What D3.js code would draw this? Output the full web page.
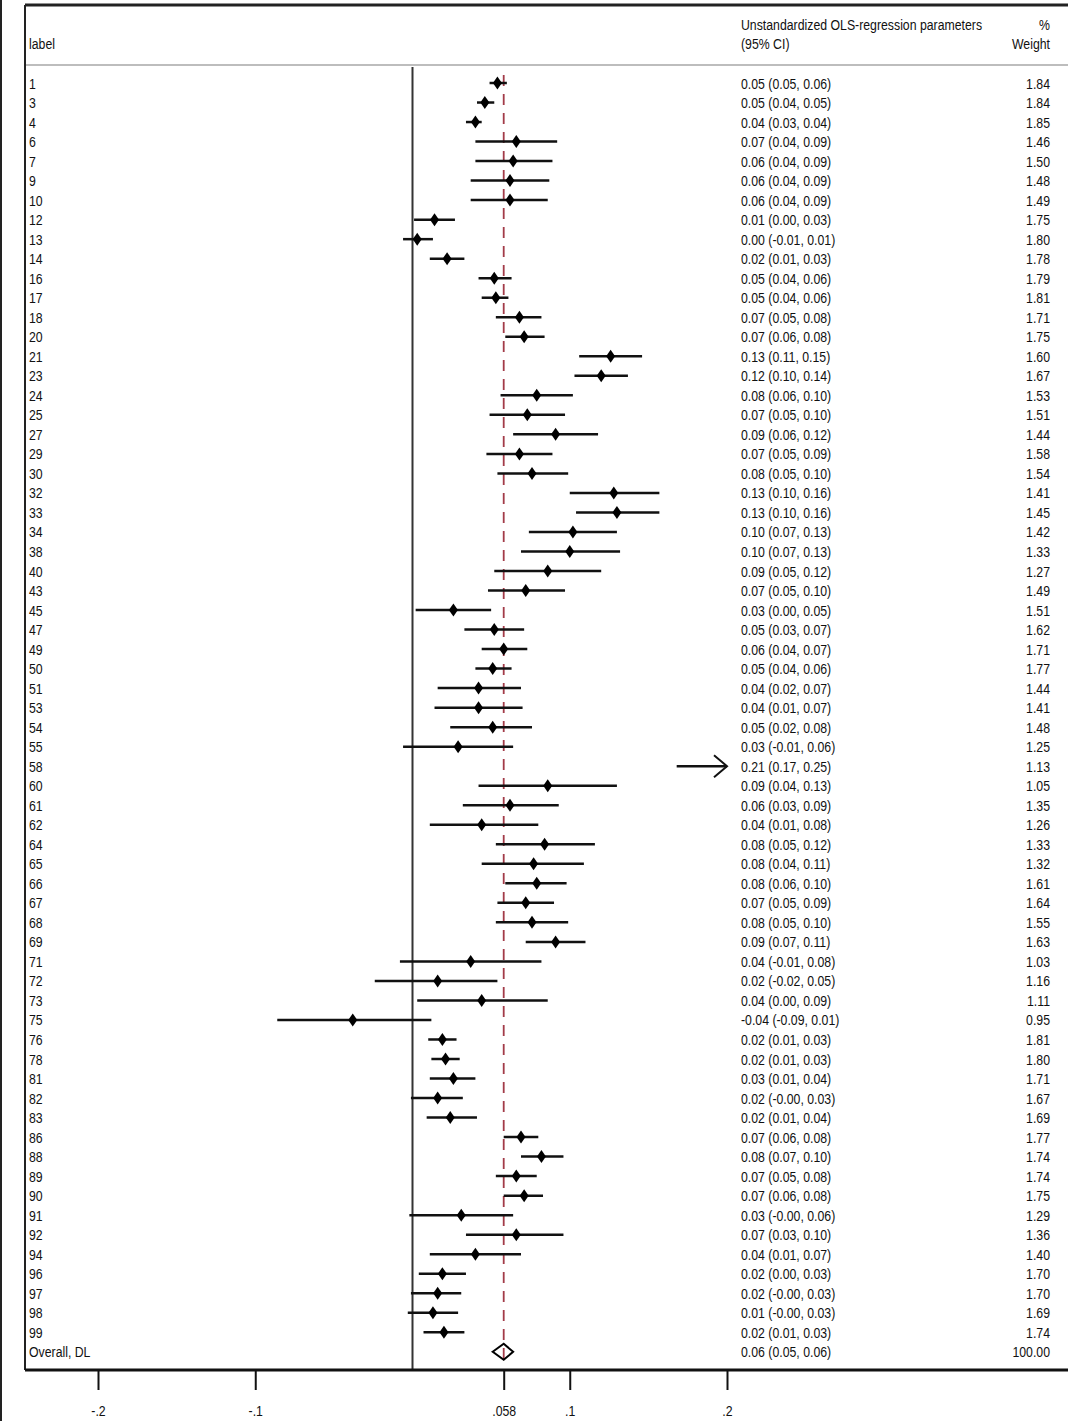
<!DOCTYPE html>
<html>
<head>
<meta charset="utf-8">
<script src="https://cdn.jsdelivr.net/npm/d3@7"></script>
<style>
  body { margin: 0; background: #fff; }
  svg text { font-family: "Liberation Sans Narrow", "Arial Narrow", "Liberation Sans", Arial, sans-serif; font-size: 15px; fill: #111; }
</style>
</head>
<body>
<svg id="chart" width="1068" height="1421"></svg>
<script>
// study labels, point estimates, CI bounds and % weights
var labels = ["1","3","4","6","7","9","10","12","13","14","16","17","18","20","21","23","24","25","27","29",
  "30","32","33","34","38","40","43","45","47","49","50","51","53","54","55","58","60","61","62","64",
  "65","66","67","68","69","71","72","73","75","76","78","81","82","83","86","88","89","90","91","92",
  "94","96","97","98","99"];
var est = [0.054,0.046,0.040,0.066,0.064,0.062,0.062,0.014,0.003,0.022,0.052,0.053,0.068,0.071,0.126,0.120,0.079,0.073,0.091,0.068,
  0.076,0.128,0.130,0.102,0.100,0.086,0.072,0.026,0.052,0.058,0.051,0.042,0.042,0.051,0.029,0.210,0.086,0.062,0.044,0.084,
  0.077,0.079,0.072,0.076,0.091,0.037,0.016,0.044,-0.038,0.019,0.021,0.026,0.016,0.024,0.069,0.082,0.066,0.071,0.031,0.066,
  0.040,0.019,0.016,0.013,0.020];
var lower = [0.049,0.041,0.034,0.040,0.040,0.037,0.037,0.001,-0.006,0.011,0.042,0.044,0.053,0.059,0.106,0.103,0.056,0.049,0.064,0.047,
  0.054,0.100,0.104,0.074,0.069,0.052,0.048,0.002,0.033,0.044,0.040,0.016,0.014,0.024,-0.006,0.168,0.042,0.032,0.011,0.053,
  0.044,0.059,0.054,0.053,0.072,-0.008,-0.024,0.003,-0.086,0.010,0.012,0.011,-0.001,0.009,0.058,0.069,0.053,0.058,-0.002,0.034,
  0.011,0.004,-0.001,-0.003,0.007];
var upper = [0.060,0.052,0.044,0.092,0.089,0.087,0.086,0.027,0.013,0.033,0.063,0.061,0.082,0.084,0.146,0.137,0.102,0.097,0.118,0.089,
  0.099,0.157,0.157,0.130,0.132,0.120,0.097,0.050,0.071,0.073,0.063,0.069,0.070,0.076,0.064,0.252,0.130,0.093,0.080,0.116,
  0.109,0.098,0.090,0.099,0.110,0.082,0.054,0.086,0.012,0.028,0.030,0.040,0.032,0.041,0.080,0.096,0.079,0.083,0.064,0.096,
  0.069,0.034,0.031,0.029,0.033];
var weight = [1.84,1.84,1.85,1.46,1.50,1.48,1.49,1.75,1.80,1.78,1.79,1.81,1.71,1.75,1.60,1.67,1.53,1.51,1.44,1.58,
  1.54,1.41,1.45,1.42,1.33,1.27,1.49,1.51,1.62,1.71,1.77,1.44,1.41,1.48,1.25,1.13,1.05,1.35,1.26,1.33,
  1.32,1.61,1.64,1.55,1.63,1.03,1.16,1.11,0.95,1.81,1.80,1.71,1.67,1.69,1.77,1.74,1.74,1.75,1.29,1.36,
  1.40,1.70,1.70,1.69,1.74];
// overall (DerSimonian-Laird) estimate
var overall = { label: "Overall, DL", est: 0.058, lower: 0.051, upper: 0.064, weight: 100 };
var tickValues = [-0.2, -0.1, 0.058, 0.1, 0.2];
var tickLabels = ["-.2", "-.1", ".058", ".1", ".2"];

var svg = d3.select("#chart"),
    width = +svg.attr("width"),
    height = +svg.attr("height");

var left = 25, headTop = 5, headLine = 65, axisY = 1370;
var rowTop = 83, rowStep = 19.52;
var xmin = -0.2, xmax = 0.2;

var x = d3.scaleLinear().domain([xmin, xmax]).range([98, 727]);
var y = d3.scaleLinear().domain([0, 1]).range([rowTop, rowTop + rowStep]);

var fmt = function(v) { return v.toFixed(2); };

// narrow text: squeeze regular sans horizontally
var squeeze = 0.82;
function place(px, py) { return "translate(" + px + "," + py + ") scale(" + squeeze + ",1)"; }
function label(sel, px, py, str, anchor) {
  return sel.append("text").attr("transform", place(px, py)).attr("text-anchor", anchor || "start").text(str);
}

var rows = labels.map(function(l, i) {
  return { label: l, est: est[i], lower: lower[i], upper: upper[i], weight: weight[i], i: i };
});

// frame
svg.append("line").attr("x1", 1).attr("x2", 1).attr("y1", 0).attr("y2", height)
  .attr("stroke", "#222").attr("stroke-width", 2);
svg.append("line").attr("x1", left).attr("x2", width).attr("y1", headTop).attr("y2", headTop)
  .attr("stroke", "#222").attr("stroke-width", 3);
svg.append("line").attr("x1", left).attr("x2", width).attr("y1", headLine).attr("y2", headLine)
  .attr("stroke", "#bdbdbd").attr("stroke-width", 2);
svg.append("line").attr("x1", left).attr("x2", left).attr("y1", headTop).attr("y2", axisY)
  .attr("stroke", "#222").attr("stroke-width", 2);

// headers
var colCI = 741, colW = 1050;
label(svg, 29, 49, "label");
label(svg, colCI, 30, "Unstandardized OLS-regression parameters");
label(svg, colCI, 49, "(95% CI)");
label(svg, colW, 30, "%", "end");
label(svg, colW, 49, "Weight", "end");

// null line
svg.append("line").attr("x1", x(0)).attr("x2", x(0)).attr("y1", 67).attr("y2", axisY)
  .attr("stroke", "#333").attr("stroke-width", 2);

// overall line
svg.append("line").attr("x1", x(overall.est)).attr("x2", x(overall.est))
  .attr("y1", 75).attr("y2", y(rows.length) + 9)
  .attr("stroke", "#a23b48").attr("stroke-width", 1.8).attr("stroke-dasharray", "11,8");

// CI lines (clipped to plot range)
var g = svg.append("g");
g.selectAll("line.ci").data(rows).enter().append("line")
  .attr("class", "ci")
  .attr("x1", function(d) { return x(Math.max(d.lower, xmin)); })
  .attr("x2", function(d) { return x(Math.min(d.upper, xmax)); })
  .attr("y1", function(d) { return y(d.i); })
  .attr("y2", function(d) { return y(d.i); })
  .attr("stroke", "#111").attr("stroke-width", 2.5);

// open arrowhead where the CI runs off scale
g.selectAll("path.arrow").data(rows.filter(function(d) { return d.upper > xmax; })).enter().append("path")
  .attr("class", "arrow")
  .attr("d", function(d) {
    var ax = x(xmax), ay = y(d.i);
    return "M" + (ax - 13) + "," + (ay - 11) + "L" + ax + "," + ay + "L" + (ax - 13) + "," + (ay + 11);
  })
  .attr("fill", "none").attr("stroke", "#111").attr("stroke-width", 2);

g.selectAll("path.pt").data(rows.filter(function(d) { return d.est >= xmin && d.est <= xmax; })).enter().append("path")
  .attr("class", "pt")
  .attr("d", function(d) {
    var cx = x(d.est), cy = y(d.i);
    return "M" + (cx - 4.5) + "," + cy + "L" + cx + "," + (cy - 6.5) + "L" + (cx + 4.5) + "," + cy + "L" + cx + "," + (cy + 6.5) + "Z";
  })
  .attr("fill", "#000");

// overall diamond
var oy = y(rows.length);
svg.append("path")
  .attr("d", "M" + x(overall.lower) + "," + oy + "L" + x(overall.est) + "," + (oy - 8) +
    "L" + x(overall.upper) + "," + oy + "L" + x(overall.est) + "," + (oy + 8) + "Z")
  .attr("fill", "none").attr("stroke", "#000").attr("stroke-width", 2);

// text columns
var all = rows.concat([{ label: overall.label, est: overall.est, lower: overall.lower, upper: overall.upper, weight: overall.weight, i: rows.length }]);
var t = svg.append("g");
t.selectAll("text.lab").data(all).enter().append("text")
  .attr("class", "lab").attr("transform", function(d) { return place(29, y(d.i) + 5.5); })
  .text(function(d) { return d.label; });
t.selectAll("text.ci").data(all).enter().append("text")
  .attr("class", "ci").attr("transform", function(d) { return place(colCI, y(d.i) + 5.5); })
  .text(function(d) { return fmt(d.est) + " (" + fmt(d.lower) + ", " + fmt(d.upper) + ")"; });
t.selectAll("text.w").data(all).enter().append("text")
  .attr("class", "w").attr("transform", function(d) { return place(colW, y(d.i) + 5.5); })
  .attr("text-anchor", "end")
  .text(function(d) { return fmt(d.weight); });

// x axis
svg.append("line").attr("x1", left).attr("x2", width).attr("y1", axisY).attr("y2", axisY)
  .attr("stroke", "#111").attr("stroke-width", 3);
var axis = d3.axisBottom(x).tickValues(tickValues).tickSize(19)
  .tickFormat(function(d, i) { return tickLabels[i]; });
var ag = svg.append("g").attr("transform", "translate(0," + (axisY + 1) + ")").call(axis);
ag.select(".domain").remove();
ag.selectAll(".tick line").attr("stroke", "#111").attr("stroke-width", 2);
ag.selectAll(".tick text").attr("y", null).attr("dy", null)
  .attr("transform", place(0, 45))
  .style("font-family", "'Liberation Sans Narrow', 'Arial Narrow', 'Liberation Sans', Arial, sans-serif")
  .style("font-size", "15px").attr("fill", "#111");
</script>
</body>
</html>
